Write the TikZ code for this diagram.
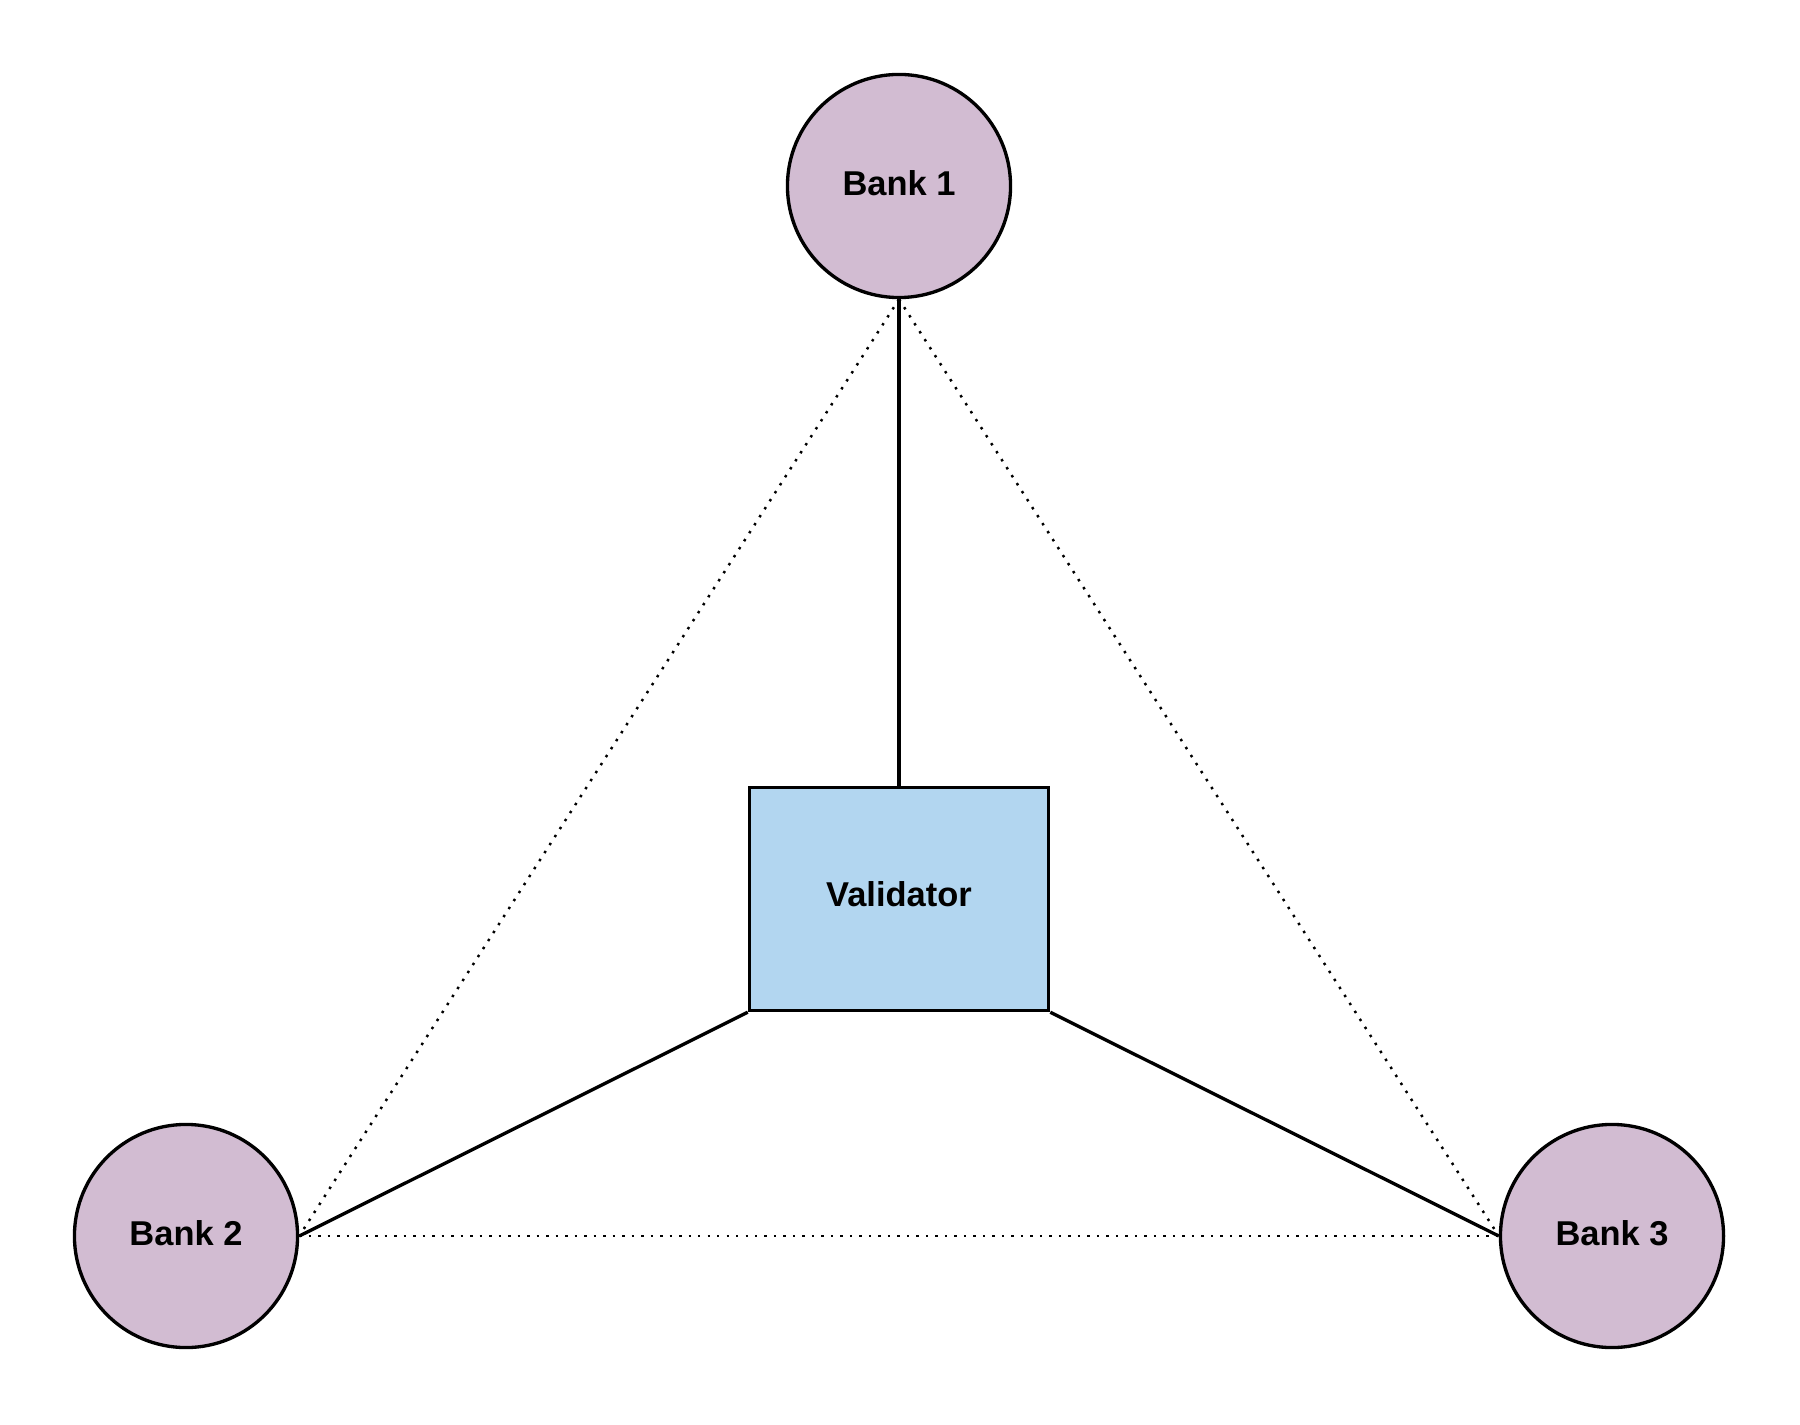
\documentclass[tikz,border=0pt]{standalone}
\usepackage{fontspec}
\setmainfont{Liberation Sans}
\usetikzlibrary{positioning}
\definecolor{cBank}{HTML}{D2BCD2}
\definecolor{cVal} {HTML}{B2D6F0}

\begin{document}
\begin{tikzpicture}[
    x=0.01cm,y=-0.01cm,
    font=\fontsize{9.8}{11}\selectfont\bfseries,
    bank/.style={circle,draw,line width=0.95pt,fill=cBank,minimum size=2.23cm,inner sep=0pt},
    val/.style ={rectangle,draw,line width=0.95pt,fill=cVal,minimum width=2.99cm,minimum height=2.23cm,inner sep=0pt},
    link/.style={line width=0.95pt},
    peer/.style={line width=0.7pt,dotted},
  ]
  \useasboundingbox (0,0) rectangle (1800,1425);

  % ---------- NODES ----------
  \node[bank] (b1)  at (899,186)  {\raisebox{1.5pt}{Bank 1}};
  \node[val]  (val) at (899,899)  {\raisebox{3pt}{Validator}};
  \node[bank] (b2)  at (186,1236) {\raisebox{1.5pt}{Bank 2}};
  \node[bank] (b3)  at (1612,1236){\raisebox{1.5pt}{Bank 3}};

  % ---------- DIRECT LINKS ----------
  \draw[link] (b1.south) -- (val.north);
  \draw[link] (val.south west) -- (b2.east);
  \draw[link] (val.south east) -- (b3.west);

  % ---------- PEER LINKS ----------
  \draw[peer] (b1.south) -- (b2.east);
  \draw[peer] (b1.south) -- (b3.west);
  \draw[peer] (b2.east) -- (b3.west);

\end{tikzpicture}
\end{document}
